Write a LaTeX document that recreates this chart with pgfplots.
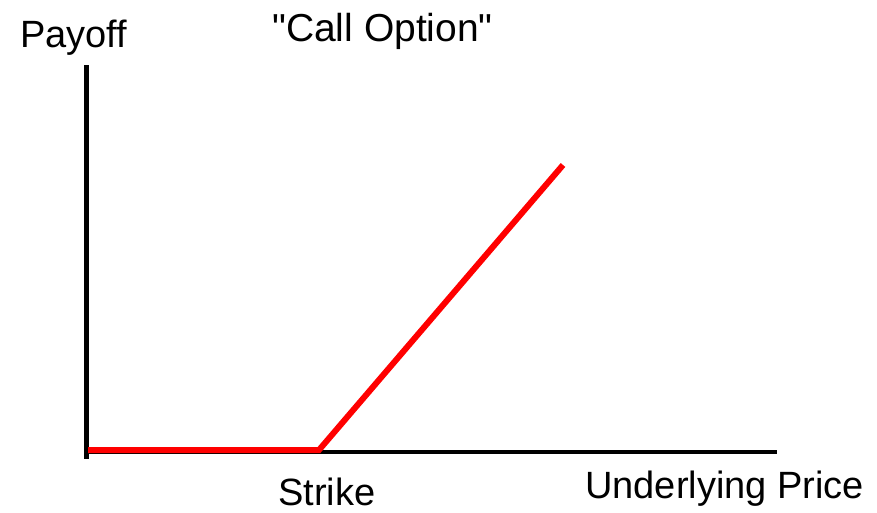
\documentclass[border=0pt]{standalone}
\usepackage{pgfplots}
\pgfplotsset{compat=1.18}
\usepackage{fontspec}
\setmainfont{Liberation Sans}
\newfontfamily\plainqf{Liberation Sans}[Ligatures=TeXOff]
\begin{document}
\begin{tikzpicture}
\begin{axis}[
  scale only axis, width=877pt, height=512pt,
  xmin=0, xmax=877, ymin=0, ymax=512,
  axis lines=none, clip=false,
]
\path (rel axis cs:0,0) rectangle (rel axis cs:1,1);
% axes drawn as lines
\addplot[black, line width=5pt, line cap=rect] coordinates {(86,56) (86,444)};
\addplot[black, line width=4pt] coordinates {(84,60) (777,60)};
% payoff
\addplot[red, line width=6pt, line join=miter] coordinates {(88,62) (319,62) (563,347)};
\node[anchor=base west, inner sep=0pt, font=\fontsize{38}{40}\selectfont] at (axis cs:20,464) {Payoff};
\node[anchor=base west, inner sep=0pt, font=\plainqf\fontsize{39}{41}\selectfont] at (axis cs:272,470) {"Call Option"};
\node[anchor=base west, inner sep=0pt, font=\fontsize{38}{40}\selectfont] at (axis cs:278,7) {Strike};
\node[anchor=base west, inner sep=0pt, font=\fontsize{38}{40}\selectfont] at (axis cs:585,14) {Underlying Price};
\end{axis}
\end{tikzpicture}
\end{document}
